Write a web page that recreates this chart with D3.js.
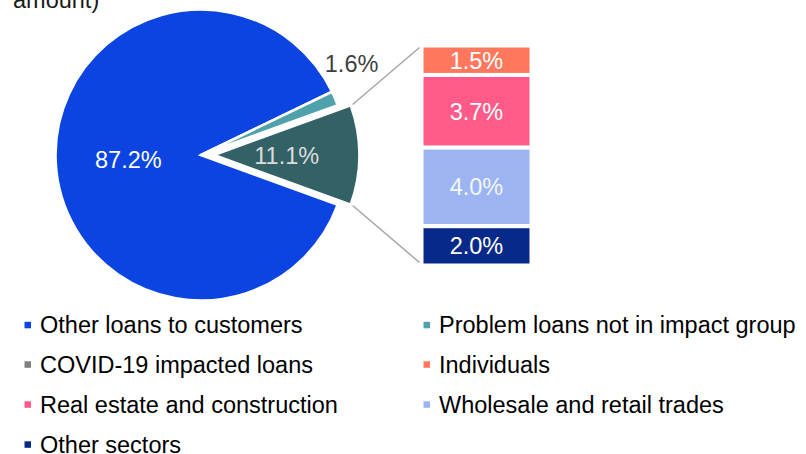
<!DOCTYPE html>
<html>
<head>
<meta charset="utf-8">
<script src="https://cdn.jsdelivr.net/npm/d3@7"></script>
<style>
  html, body { margin: 0; padding: 0; background: #fff; }
  svg { display: block; font-family: "Liberation Sans", Arial, sans-serif; }
</style>
</head>
<body>
<svg id="chart" width="806" height="454"></svg>
<script>
// Pie: share of loans (by amount)
const pieCategories = ["Other loans to customers", "Problem loans not in impact group", "COVID-19 impacted loans"];
const pieValues = [87.2, 1.6, 11.1];
const pieColors = ["#0b44e0", "#4fa2ac", "#336266"];

// Breakdown of COVID-19 impacted loans (stacked bar), listed top to bottom
const barCategories = ["Individuals", "Real estate and construction", "Wholesale and retail trades", "Other sectors"];
const barValues = [1.5, 3.7, 4.0, 2.0];
const barColors = ["#ff785e", "#ff5a88", "#9cb4f2", "#07298a"];
const barTextColors = ["#ffffff", "#ffffff", "#f4f6fb", "#ffffff"];

// Legend entries (row-major, two columns)
const legendLabels = [
  "Other loans to customers", "Problem loans not in impact group",
  "COVID-19 impacted loans", "Individuals",
  "Real estate and construction", "Wholesale and retail trades",
  "Other sectors"
];
const legendColors = ["#0b44e0", "#4fa2ac", "#7f7f7f", "#ff785e", "#ff5a88", "#9cb4f2", "#07298a"];

const svg = d3.select("#chart");
const fontSize = 23.5;

// Title (only its last line falls inside the frame)
svg.append("text")
  .attr("x", 13).attr("y", 8)
  .attr("font-size", fontSize).attr("fill", "#1a1a1a")
  .text("amount)");

// ---- Pie ----
const cx = 201, cy = 155, R = 145.5;
const total = d3.sum(pieValues);
const splitSpan = pieValues[2] / total * 2 * Math.PI;
const start = Math.PI / 2 + splitSpan / 2;
const pie = d3.pie().sort(null).value(d => d).startAngle(start).endAngle(start + 2 * Math.PI);
const arcs = pie(pieValues);
const arc = d3.arc().innerRadius(0).outerRadius(R);
const explode = 13;

const g = svg.append("g").attr("transform", `translate(${cx},${cy})`);
arcs.forEach((a, i) => {
  const mid = (a.startAngle + a.endAngle) / 2;
  const off = i === 2 ? explode : 0;
  const dx = Math.sin(mid) * off, dy = -Math.cos(mid) * off;
  a.dx = dx; a.dy = dy;
  g.append("path")
    .attr("d", arc(a))
    .attr("transform", `translate(${dx},${dy})`)
    .attr("fill", pieColors[i])
    .attr("stroke", "#fff")
    .attr("stroke-width", 2.6)
    .attr("stroke-linejoin", "miter");
});

// Pie labels
const fmt = v => v.toFixed(1) + "%";
// main slice: centroid
{
  const c = arc.centroid(arcs[0]);
  g.append("text").attr("x", c[0]).attr("y", c[1] + 9.5)
    .attr("text-anchor", "middle").attr("font-size", fontSize).attr("fill", "#ffffff")
    .text(fmt(pieValues[0]));
}
// split slice: centroid of the exploded slice
{
  const c = arc.centroid(arcs[2]);
  g.append("text").attr("x", c[0] + arcs[2].dx).attr("y", c[1] + arcs[2].dy + 9)
    .attr("text-anchor", "middle").attr("font-size", fontSize).attr("fill", "#dcdcdc")
    .text(fmt(pieValues[2]));
}
// small slice: label outside its outer edge
{
  const a = arcs[1];
  const mid = (a.startAngle + a.endAngle) / 2;
  const px = Math.sin(mid) * (R + 6), py = -Math.cos(mid) * (R + 6);
  g.append("text").attr("x", px + 11).attr("y", py - 24)
    .attr("text-anchor", "middle").attr("font-size", fontSize).attr("fill", "#404040")
    .text(fmt(pieValues[1]));
}

// ---- Stacked bar ----
const barX = 421.5, barW = 110;
const barTotal = d3.sum(barValues);
const y = d3.scaleLinear().domain([0, barTotal]).range([45.5, 265.5]);
const cum = d3.cumsum([0, ...barValues]);
const bg = svg.append("g");
barValues.forEach((v, i) => {
  const y0 = y(cum[i]), y1 = y(cum[i + 1]);
  bg.append("rect")
    .attr("x", barX).attr("y", y0).attr("width", barW).attr("height", y1 - y0)
    .attr("fill", barColors[i]).attr("stroke", "#fff").attr("stroke-width", 4);
  bg.append("text")
    .attr("x", barX + barW / 2).attr("y", (y0 + y1) / 2 + 8.5)
    .attr("text-anchor", "middle").attr("font-size", fontSize).attr("fill", barTextColors[i])
    .text(fmt(v));
});

// Connector lines from the exploded slice to the bar
{
  const a = arcs[2];
  const ex = cx + a.dx, ey = cy + a.dy;
  const rr = R + 2;
  const top = [ex + Math.sin(a.startAngle) * rr, ey - Math.cos(a.startAngle) * rr];
  const bot = [ex + Math.sin(a.endAngle) * rr, ey - Math.cos(a.endAngle) * rr];
  const p1 = top[1] < bot[1] ? top : bot, p2 = top[1] < bot[1] ? bot : top;
  svg.append("line").attr("x1", p1[0]).attr("y1", p1[1]).attr("x2", barX - 2).attr("y2", y(0) + 2)
    .attr("stroke", "#a6a6a6").attr("stroke-width", 1.5);
  svg.append("line").attr("x1", p2[0]).attr("y1", p2[1]).attr("x2", barX - 2).attr("y2", y(barTotal) - 3)
    .attr("stroke", "#a6a6a6").attr("stroke-width", 1.5);
}

// ---- Legend ----
const colX = [24.5, 423.5], rowY = [325, 364.5, 404.5, 444.5];
const lg = svg.append("g");
legendLabels.forEach((t, i) => {
  const col = i % 2, row = Math.floor(i / 2);
  const x0 = colX[col], yc = rowY[row];
  lg.append("rect").attr("x", x0).attr("y", yc - 3.2).attr("width", 6.5).attr("height", 6.5)
    .attr("fill", legendColors[i]);
  lg.append("text").attr("x", x0 + 15.5).attr("y", yc + 8)
    .attr("font-size", fontSize).attr("fill", "#000")
    .text(t);
});
</script>
</body>
</html>
